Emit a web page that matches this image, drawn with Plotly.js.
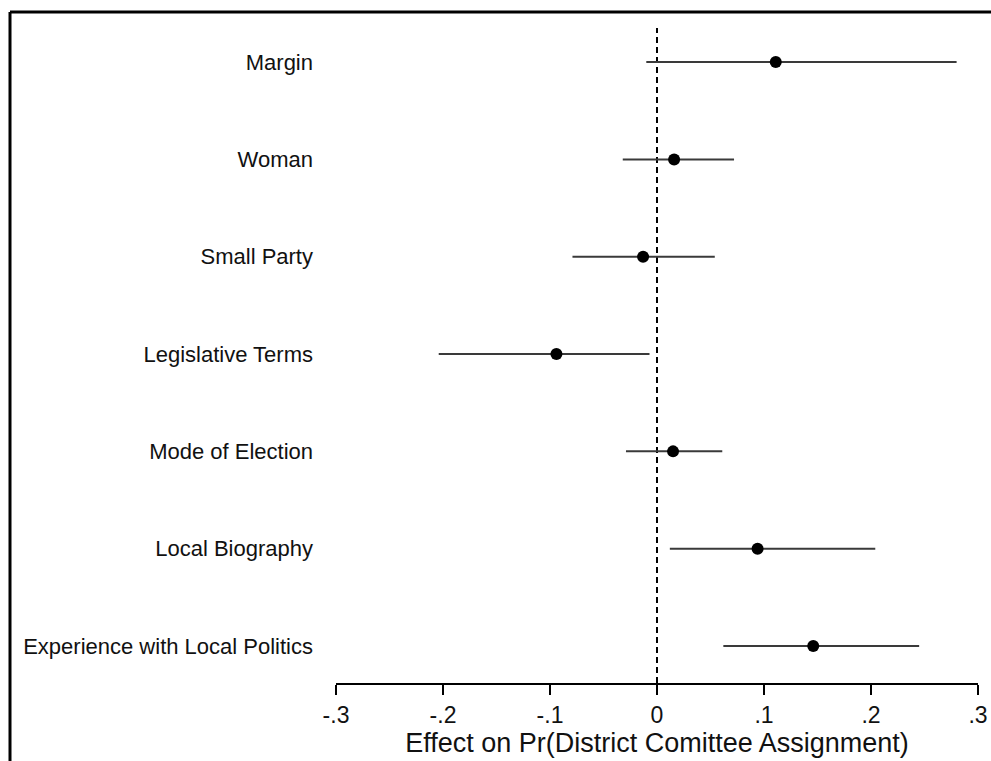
<!DOCTYPE html>
<html>
<head>
<meta charset="utf-8">
<script src="https://cdn.plot.ly/plotly-3.0.1.min.js"></script>
<style>
  html, body { margin: 0; padding: 0; background: #fff; }
  #chart { width: 991px; height: 761px; }
</style>
</head>
<body>
<div id="chart"></div>
<script>
// Categories (top to bottom as drawn)
var categories = ["Margin", "Woman", "Small Party", "Legislative Terms",
                  "Mode of Election", "Local Biography", "Experience with Local Politics"];
// Point estimates
var estimates = [0.111, 0.016, -0.013, -0.094, 0.015, 0.094, 0.146];
// Lower and upper bounds of confidence intervals
var lower = [-0.010, -0.032, -0.079, -0.204, -0.029, 0.012, 0.062];
var upper = [0.280, 0.072, 0.054, -0.007, 0.061, 0.204, 0.245];
// x-axis ticks
var xTickVals = [-0.3, -0.2, -0.1, 0, 0.1, 0.2, 0.3];
var xTickText = ["-.3", "-.2", "-.1", "0", ".1", ".2", ".3"];

var n = categories.length;
var yPos = categories.map(function (c, i) { return n - i; });
var errPlus = estimates.map(function (e, i) { return upper[i] - e; });
var errMinus = estimates.map(function (e, i) { return e - lower[i]; });

var trace = {
  type: "scatter",
  mode: "markers",
  x: estimates,
  y: yPos,
  marker: { color: "#000", size: 12 },
  error_x: {
    type: "data",
    symmetric: false,
    array: errPlus,
    arrayminus: errMinus,
    color: "#3a3a3a",
    thickness: 2,
    width: 0
  },
  hoverinfo: "skip",
  showlegend: false
};

var layout = {
  width: 991,
  height: 761,
  margin: { l: 336, r: 13, t: 28, b: 78 },
  paper_bgcolor: "#fff",
  plot_bgcolor: "#fff",
  font: { family: "Liberation Sans, Arial, Helvetica, sans-serif", color: "#000" },
  xaxis: {
    range: [-0.3, 0.3],
    tickvals: xTickVals,
    ticktext: xTickText,
    ticks: "outside",
    ticklen: 10,
    tickwidth: 2,
    tickcolor: "#000",
    showline: true,
    linecolor: "#000",
    linewidth: 2,
    showgrid: false,
    zeroline: false,
    tickfont: { size: 23, color: "#111" },
    title: { text: "Effect on Pr(District Comittee Assignment)", font: { size: 27, color: "#111" }, standoff: 2 },
    fixedrange: true
  },
  yaxis: {
    range: [0.62, 7.35],
    tickvals: yPos,
    ticktext: categories,
    ticks: "",
    showline: false,
    showgrid: false,
    zeroline: false,
    ticklabelstandoff: 22,
    tickfont: { size: 22, color: "#111" },
    fixedrange: true
  },
  shapes: [
    { type: "line", xref: "x", yref: "paper", x0: 0, x1: 0, y0: 0, y1: 1,
      line: { color: "#000", width: 2, dash: "6px,4px" }, layer: "below" },
    // frame: top and left border
    { type: "line", xref: "paper", yref: "paper", x0: (10 - 336) / 642, x1: (991 - 336) / 642,
      y0: (683 - 12) / 655, y1: (683 - 12) / 655, line: { color: "#000", width: 3 } },
    { type: "line", xref: "paper", yref: "paper", x0: (10 - 336) / 642, x1: (10 - 336) / 642,
      y0: (683 - 12) / 655, y1: (683 - 770) / 655, line: { color: "#000", width: 3 } }
  ]
};

Plotly.newPlot("chart", [trace], layout, { displayModeBar: false, staticPlot: true });
</script>
</body>
</html>
